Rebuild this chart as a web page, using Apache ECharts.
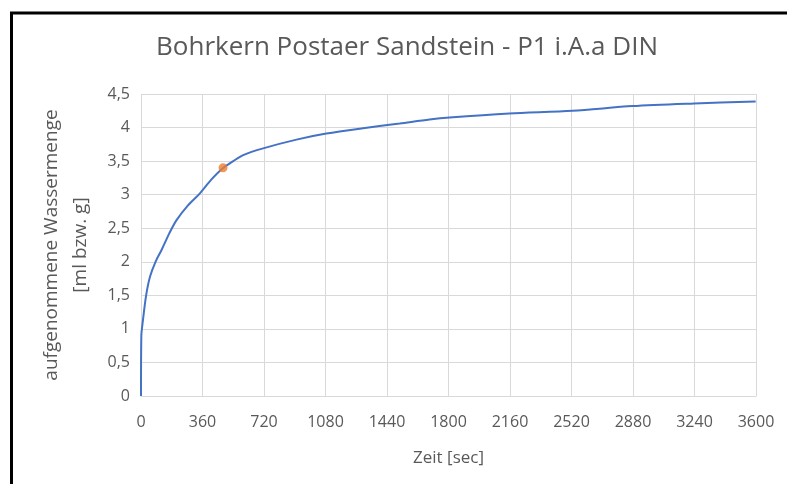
<!DOCTYPE html>
<html><head><meta charset="utf-8">
<script src="https://cdn.jsdelivr.net/npm/echarts@6/dist/echarts.min.js"></script>
<style>html,body{margin:0;padding:0;background:#fff}#c{width:787px;height:484px}</style>
</head><body><div id="c"></div>
<script>
const titleText = "Bohrkern Postaer Sandstein - P1 i.A.a DIN";
const xName = "Zeit [sec]";
const yName = "aufgenommene Wassermenge\n[ml bzw. g]";
const timeSec = [0, 2, 10, 30, 53, 85, 121, 165, 208, 275, 345, 410, 477, 540, 598, 715, 910, 1085, 1300, 1514, 1689, 1806, 2156, 2526, 2877, 3238, 3598];
const water   = [0, 0.9, 1.1, 1.5, 1.78, 2.0, 2.18, 2.42, 2.62, 2.84, 3.02, 3.22, 3.39, 3.5, 3.59, 3.69, 3.82, 3.91, 3.99, 4.06, 4.12, 4.15, 4.21, 4.25, 4.32, 4.36, 4.39];
const markT = [480];
const markW = [3.4];

const chart = echarts.init(document.getElementById('c'));
const font = '"Open Sans", sans-serif';
chart.setOption({
  animation: false,
  backgroundColor: '#fff',
  title: { text: titleText, left: 402, top: 30, textAlign: 'center',
    textStyle: { fontFamily: font, fontSize: 26, fontWeight: 'normal', color: '#595959' } },
  grid: { left: 141, right: 31, top: 94, bottom: 88 },
  xAxis: { type: 'value', min: 0, max: 3600, interval: 360,
    name: xName, nameLocation: 'middle', nameGap: 54,
    nameTextStyle: { fontFamily: font, fontSize: 17, color: '#595959' },
    axisLine: { show: true, lineStyle: { color: '#d9d9d9' } }, axisTick: { show: false },
    axisLabel: { fontFamily: font, fontSize: 16, color: '#595959', margin: 18,
      formatter: v => String(v) },
    splitLine: { show: true, lineStyle: { color: '#d9d9d9' } } },
  yAxis: { type: 'value', min: 0, max: 4.5, interval: 0.5,
    name: yName, nameLocation: 'middle', nameGap: 46, nameRotate: 90,
    nameTextStyle: { fontFamily: font, fontSize: 19, color: '#595959', lineHeight: 29 },
    axisLine: { show: false }, axisTick: { show: false },
    axisLabel: { fontFamily: font, fontSize: 16, color: '#595959', margin: 11,
      formatter: v => String(v).replace('.', ',') },
    splitLine: { show: true, lineStyle: { color: '#d9d9d9' } } },
  graphic: [{ type: 'rect', shape: { x: 11.5, y: 13, width: 900, height: 600 },
    style: { fill: 'none', stroke: '#000', lineWidth: 3 }, z: 100 }],
  series: [
    { type: 'line', data: timeSec.map((t, i) => [t, water[i]]), smooth: 0.3, showSymbol: false,
      lineStyle: { color: '#4472C4', width: 2 } },
    { type: 'scatter', data: markT.map((t, i) => [t, markW[i]]), symbolSize: 9,
      itemStyle: { color: '#ED7D31' }, z: 5 }
  ]
});
</script></body></html>
